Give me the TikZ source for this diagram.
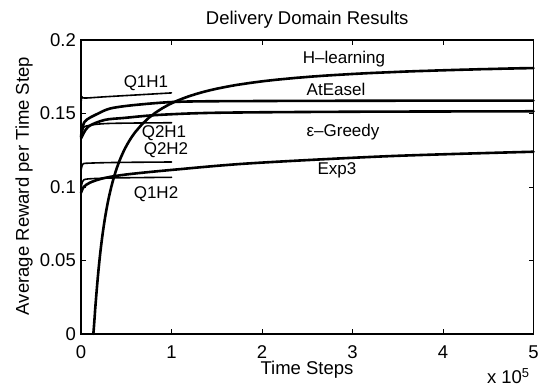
\documentclass[tikz,border=0pt]{standalone}
\usepackage{fontspec}
\setmainfont{Liberation Sans}
\tikzstyle{curve}=[line width=2.6pt, line join=round, line cap=round]
\tikzstyle{qline}=[line width=1.6pt, line join=round, line cap=round]
\tikzstyle{lbl}=[inner sep=0pt, anchor=base, font=\fontsize{17}{20}\selectfont]
\tikzstyle{axlbl}=[inner sep=0pt, font=\fontsize{18.5}{22}\selectfont]

\begin{document}
\begin{tikzpicture}[x=90.5pt, y=1470pt]
\useasboundingbox (-81pt,-54pt) rectangle (458pt,334pt);
\draw[line width=1.3pt] (0,0) rectangle (5,0.2);
\foreach \i in {1,...,4} {
  \draw[line width=0.8pt] (\i,0) -- ++(0,0.0034);
  \draw[line width=0.8pt] (\i,0.2) -- ++(0,-0.0034);
}
\foreach \v in {0.05,0.1,0.15} {
  \draw[line width=0.8pt] (0,\v) -- ++(0.055,0);
  \draw[line width=0.8pt] (5,\v) -- ++(-0.055,0);
}
\foreach \i in {0,...,5}
  \node[axlbl, anchor=north] at (\i,-0.0078) (xt\i) {\i};
\foreach \v [count=\k] in {0,0.05,0.1,0.15,0.2}
  \node[axlbl, anchor=east] at (-0.055,\v) (yt\k) {\v};
\node[axlbl, anchor=base] at (2.5,0.2102) (title) {Delivery Domain Results};
\node[axlbl, anchor=base] at (2.497,-0.0275) (xlabel) {Time Steps};
\node[axlbl, anchor=base east] at (4.96,-0.0336) (xscale) {x 10\textsuperscript{5}};
\node[axlbl, rotate=90] at (-0.63,0.1007) (ylabel) {Average Reward per Time Step};

% short runs
\draw[qline] plot[smooth] coordinates {(0,0.157) (0.01,0.1615) (0.04,0.1605) (0.3,0.1615) (1,0.164)};
\draw[qline] plot[smooth] coordinates {(0,0.133) (0.02,0.139) (0.06,0.1415) (0.3,0.1432) (1,0.1437)};
\draw[qline] plot[smooth] coordinates {(0,0.111) (0.02,0.1155) (0.08,0.1162) (0.4,0.1167) (1,0.117)};
\draw[qline] plot[smooth] coordinates {(0,0.099) (0.02,0.104) (0.08,0.1055) (0.4,0.1062) (1,0.1066)};

% long runs
\draw[curve] plot[smooth] coordinates {(0,0.134) (0.04,0.1444) (0.19,0.150) (0.33,0.1535)
  (0.6,0.1558) (1.09,0.158) (2,0.1585) (3.5,0.1587) (5,0.1587)};
\draw[curve] plot[smooth] coordinates {(0,0.133) (0.08,0.141) (0.26,0.1456) (0.48,0.147)
  (0.85,0.149) (1.5,0.1505) (3,0.1512) (5,0.1515)};
\draw[curve] plot[smooth] coordinates {(0,0.096) (0.03,0.100) (0.1,0.103) (0.25,0.106)
  (0.5,0.1085) (1,0.1116) (1.87,0.1161) (3.41,0.121) (5,0.124)};
\draw[curve] plot[domain=0.1362:0.6, samples=120] (\x, {0.187*(1-0.136/\x)^1.2})
  -- plot[domain=0.6:5, samples=60] (\x, {0.187*(1-0.136/\x)^1.2});

\node[lbl] at (0.718,0.168) (q1h1) {Q1H1};
\node[lbl] at (0.917,0.134) (q2h1) {Q2H1};
\node[lbl] at (0.939,0.1218) (q2h2) {Q2H2};
\node[lbl] at (0.829,0.0925) (q1h2) {Q1H2};
\node[lbl] at (2.906,0.1841) (hlearn) {H--learning};
\node[lbl] at (2.818,0.1621) (ateasel) {AtEasel};
\node[lbl] at (2.895,0.1342) (egreedy) {ε--Greedy};
\node[lbl] at (2.829,0.1088) (exp3) {Exp3};
\end{tikzpicture}
\end{document}
